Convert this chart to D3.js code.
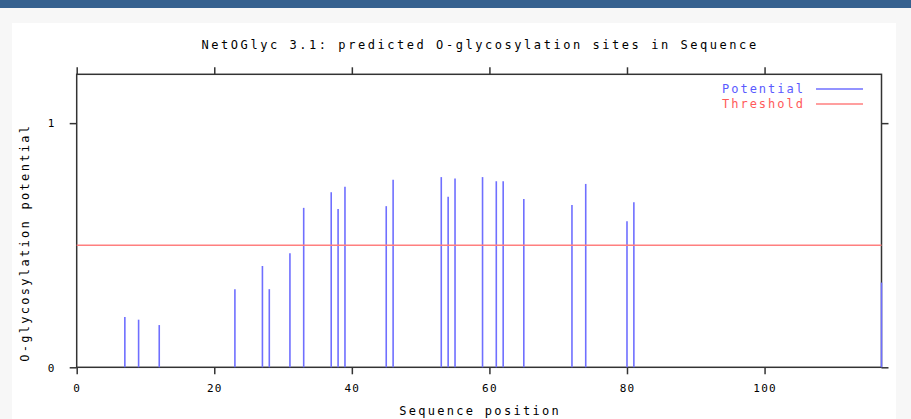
<!DOCTYPE html>
<html>
<head>
<meta charset="utf-8">
<script src="https://cdn.jsdelivr.net/npm/d3@7"></script>
<style>
  html, body { margin: 0; padding: 0; background: #f7f7f7; }
  svg { display: block; }
  text { font-family: "DejaVu Sans Mono", "Liberation Mono", monospace; }
</style>
</head>
<body>
<svg id="chart" width="911" height="419"></svg>
<script>
// ---- data ----
const titleText = "NetOGlyc 3.1: predicted O-glycosylation sites in Sequence";
const xLabel = "Sequence position";
const yLabel = "O-glycosylation potential";
const positions = [7, 9, 12, 23, 27, 28, 31, 33, 37, 38, 39, 45, 46, 53, 54, 55, 59, 61, 62, 65, 72, 74, 80, 81, 117];
const potential = [0.206, 0.195, 0.173, 0.320, 0.415, 0.320, 0.467, 0.653, 0.717, 0.648, 0.739, 0.660, 0.768,
                   0.779, 0.699, 0.773, 0.779, 0.762, 0.762, 0.689, 0.665, 0.751, 0.598, 0.676, 0.347];
const threshold = 0.5;
const xTicks = [0, 20, 40, 60, 80, 100];
const yTicks = [0, 1];
const legendLabels = ["Potential", "Threshold"];
const seqLength = 117;

// ---- layout ----
const svg = d3.select("#chart");
const W = 911, H = 419;
const pL = 76.7, pR = 881.5, pT = 74.3, pB = 367.3;
const axisColor = "#333";
const blue = "#6f6fff", red = "#ff7f7f";
const ink = "#000";

svg.append("rect").attr("x", 0).attr("y", 0).attr("width", W).attr("height", 8).attr("fill", "#36618f");
svg.append("rect").attr("x", 12).attr("y", 23).attr("width", 884).attr("height", H - 23).attr("fill", "#ffffff");

const x = d3.scaleLinear().domain([0, seqLength]).range([pL, pR]);
const y = d3.scaleLinear().domain([0, 1.2]).range([pB, pT]);

// title
svg.append("text").attr("x", (pL + pR) / 2 + 1).attr("y", 49)
  .attr("text-anchor", "middle").attr("font-size", 12).attr("letter-spacing", 2.55)
  .attr("fill", ink).text(titleText);

// axes (outer ticks)
const tickLen = 7;
const axB = svg.append("g").attr("transform", `translate(0,${pB})`)
  .call(d3.axisBottom(x).tickValues(xTicks).tickSize(tickLen).tickPadding(10).tickFormat(d3.format("d")));
const axT = svg.append("g").attr("transform", `translate(0,${pT})`)
  .call(d3.axisTop(x).tickValues(xTicks).tickSize(tickLen).tickFormat(""));
const axL = svg.append("g").attr("transform", `translate(${pL},0)`)
  .call(d3.axisLeft(y).tickValues(yTicks).tickSize(tickLen).tickPadding(14).tickFormat(d3.format("d")));
const axR = svg.append("g").attr("transform", `translate(${pR},0)`)
  .call(d3.axisRight(y).tickValues(yTicks).tickSize(tickLen).tickFormat(""));

[axB, axT, axL, axR].forEach(g => {
  g.select(".domain").remove();
  g.selectAll(".tick line").attr("stroke", axisColor).attr("stroke-width", 1.5);
  g.selectAll(".tick text").attr("fill", ink).attr("font-size", 11)
    .attr("font-family", "'DejaVu Sans Mono', monospace").attr("letter-spacing", 1.2);
});
axL.selectAll(".tick text").attr("dy", "0.35em");

// border
svg.append("rect").attr("x", pL).attr("y", pT).attr("width", pR - pL).attr("height", pB - pT)
  .attr("fill", "none").attr("stroke", axisColor).attr("stroke-width", 1.5);

// bars (impulses)
const data = positions.map((p, i) => ({ p, v: potential[i] }));
svg.append("g").selectAll("line").data(data).join("line")
  .attr("x1", d => x(d.p)).attr("x2", d => x(d.p))
  .attr("y1", y(0)).attr("y2", d => y(d.v))
  .attr("stroke", blue).attr("stroke-width", 1.6);

// threshold
svg.append("line").attr("x1", x(0)).attr("x2", x(seqLength))
  .attr("y1", y(threshold)).attr("y2", y(threshold))
  .attr("stroke", red).attr("stroke-width", 1.6);

// axis titles
svg.append("text").attr("x", (pL + pR) / 2 + 1).attr("y", 415)
  .attr("text-anchor", "middle").attr("font-size", 12).attr("letter-spacing", 2.3)
  .attr("fill", ink).text(xLabel);
svg.append("text").attr("transform", `translate(29,${(pT + pB) / 2 + 22}) rotate(-90)`)
  .attr("text-anchor", "middle").attr("font-size", 12).attr("letter-spacing", 2.3)
  .attr("fill", ink).text(yLabel);

// legend
const legColors = [blue, red];
const legText = ["#5a5aff", "#ff5a5a"];
const leg = svg.append("g");
legendLabels.forEach((lab, i) => {
  const ly = 89 + i * 15;
  leg.append("text").attr("x", 805).attr("y", ly + 4).attr("text-anchor", "end")
    .attr("font-size", 12).attr("letter-spacing", 2.0).attr("fill", legText[i])
    .text(lab);
  leg.append("line").attr("x1", 816).attr("x2", 863).attr("y1", ly).attr("y2", ly)
    .attr("stroke", legColors[i]).attr("stroke-width", 1.6);
});
</script>
</body>
</html>
